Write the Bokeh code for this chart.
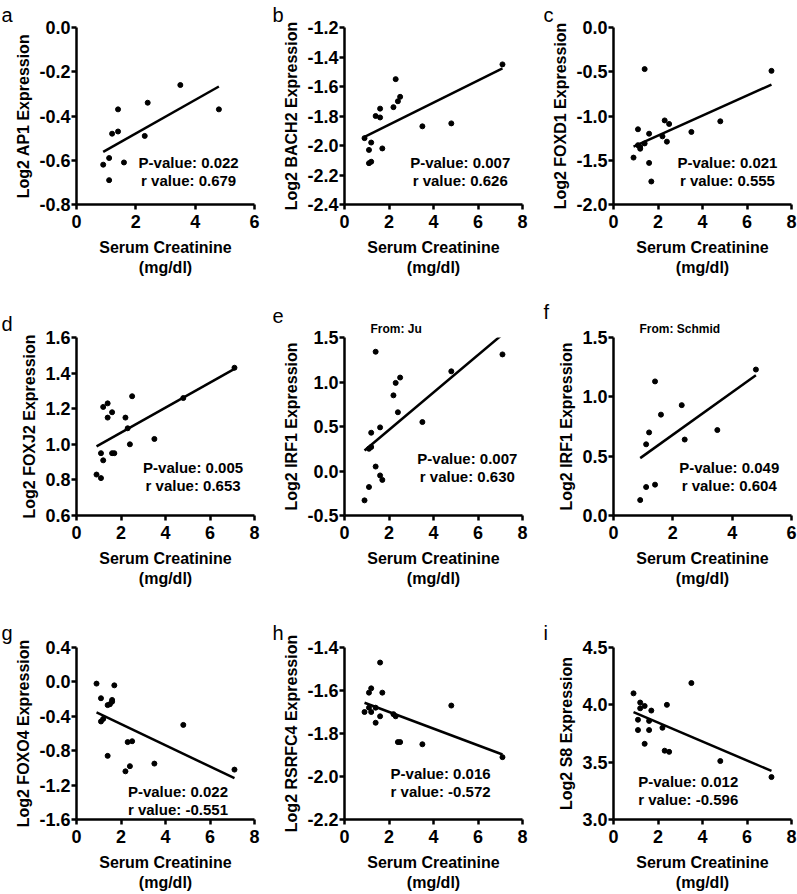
import numpy as np
from bokeh.plotting import figure
from bokeh.models import Range1d, FixedTicker, PrintfTickFormatter, Label, Title, ColumnDataSource
from bokeh.layouts import column, row
from bokeh.embed import file_html
from bokeh.resources import INLINE

# ---------------- data ----------------
creat17 = [0.9, 1.1, 1.1, 1.2, 1.2, 1.4, 1.4, 1.6, 1.6, 1.7, 2.2, 2.3, 2.4, 2.5, 3.5, 4.8, 7.1]
creat16 = [0.9, 1.1, 1.1, 1.2, 1.2, 1.4, 1.6, 1.6, 1.7, 2.2, 2.3, 2.4, 2.5, 3.5, 4.8, 7.1]
creat11 = [0.9, 1.1, 1.1, 1.2, 1.4, 1.4, 1.6, 2.3, 2.4, 3.5, 4.8]
creat_g = [0.9, 1.1, 1.1, 1.2, 1.4, 1.4, 1.5, 1.6, 1.6, 1.7, 2.2, 2.3, 2.4, 2.5, 3.5, 4.8, 7.1]

ap1 = [-0.62, -0.59, -0.69, -0.48, -0.47, -0.37, -0.61, -0.49, -0.34, -0.26, -0.37]
bach2 = [-1.95, -2.03, -2.12, -1.98, -2.11, -1.80, -1.81, -1.75, -2.02, -1.74, -1.55, -1.70, -1.67, -1.87, -1.85, -1.45]
foxd1 = [-1.47, -1.15, -1.33, -1.37, -1.35, -1.31, -0.47, -1.20, -1.53, -1.74, -1.23, -1.05, -1.29, -1.09, -1.18, -1.06, -0.49]
foxj2 = [0.83, 0.81, 0.95, 0.91, 1.21, 1.23, 1.15, 1.18, 0.95, 0.95, 1.15, 1.09, 1.00, 1.27, 1.03, 1.26, 1.43]
irf1_ju = [-0.33, -0.18, 0.25, 0.43, 0.27, 1.34, 0.05, 0.49, -0.05, -0.10, 0.85, 0.99, 0.66, 1.05, 0.55, 1.12, 1.31]
irf1_schmid = [0.13, 0.60, 0.24, 0.70, 1.13, 0.26, 0.85, 0.93, 0.64, 0.72, 1.23]
foxo4 = [-0.02, -0.19, -0.46, -0.43, -0.27, -0.86, -0.26, -0.23, -0.21, -0.04, -1.04, -0.70, -0.98, -0.69, -0.95, -0.50, -1.02]
rsrfc4 = [-1.70, -1.61, -1.68, -1.59, -1.70, -1.68, -1.75, -1.72, -1.47, -1.61, -1.71, -1.72, -1.84, -1.84, -1.85, -1.67, -1.91]
s8 = [4.10, 3.87, 3.78, 4.02, 3.97, 3.99, 3.66, 3.86, 3.78, 3.95, 3.80, 3.60, 4.00, 3.59, 4.19, 3.51, 3.37]

xticks6 = [0, 2, 4, 6]
xticks8 = [0, 2, 4, 6, 8]
yt_a = [-0.8, -0.6, -0.4, -0.2, 0.0]
yt_b = [-2.4, -2.2, -2.0, -1.8, -1.6, -1.4, -1.2]
yt_c = [-2.0, -1.5, -1.0, -0.5, 0.0]
yt_d = [0.6, 0.8, 1.0, 1.2, 1.4, 1.6]
yt_e = [-0.5, 0.0, 0.5, 1.0, 1.5]
yt_f = [0.0, 0.5, 1.0, 1.5]
yt_g = [-1.6, -1.2, -0.8, -0.4, 0.0, 0.4]
yt_h = [-2.2, -2.0, -1.8, -1.6, -1.4]
yt_i = [3.0, 3.5, 4.0, 4.5]

letters = ["a", "b", "c", "d", "e", "f", "g", "h", "i"]
ylabels = ["Log2 AP1 Expression", "Log2 BACH2 Expression", "Log2 FOXD1 Expression",
           "Log2 FOXJ2 Expression", "Log2 IRF1 Expression", "Log2 IRF1 Expression",
           "Log2 FOXO4 Expression", "Log2 RSRFC4 Expression", "Log2 S8 Expression"]
pvalues = ["0.022", "0.007", "0.021", "0.005", "0.007", "0.049", "0.022", "0.016", "0.012"]
rvalues = ["0.679", "0.626", "0.555", "0.653", "0.630", "0.604", "-0.551", "-0.572", "-0.596"]
sources = [None, None, None, None, "From: Ju", "From: Schmid", None, None, None]
xs_all = [creat11, creat16, creat17, creat17, creat17, creat11, creat_g, creat17, creat17]
ys_all = [ap1, bach2, foxd1, foxj2, irf1_ju, irf1_schmid, foxo4, rsrfc4, s8]
xt_all = [xticks6, xticks8, xticks8, xticks8, xticks8, xticks6, xticks8, xticks8, xticks8]
yt_all = [yt_a, yt_b, yt_c, yt_d, yt_e, yt_f, yt_g, yt_h, yt_i]

# ---------------- layout / style ----------------
FONT = "Liberation Sans"
FRAME_H = 178
FRAME_W = 178
COLW = [265, 265, 267]
BL = [76, 79, 83]
ROWH = [290, 310, 293]
BT = [26, 47, 47]
# annotation placement (fractions of frame: from left, from top)
text_pos = [(0.63, 0.76), (0.65, 0.76), (0.64, 0.76),
            (0.655, 0.73), (0.69, 0.68), (0.65, 0.73),
            (0.57, 0.84), (0.54, 0.73), (0.42, 0.78)]
letter_off = [-75, -72, -70]
letter_standoff = [3, 6, 7]


def make(i):
    col, rw = i % 3, i // 3
    xt, yt = xt_all[i], yt_all[i]
    x0, x1, y0, y1 = xt[0], xt[-1], yt[0], yt[-1]
    p = figure(width=COLW[col], height=ROWH[rw],
               x_range=Range1d(x0, x1), y_range=Range1d(y0, y1),
               output_backend="svg", toolbar_location=None,
               min_border_left=BL[col], min_border_right=COLW[col] - BL[col] - FRAME_W,
               min_border_top=BT[rw], min_border_bottom=ROWH[rw] - BT[rw] - FRAME_H)
    p.outline_line_color = None
    p.xgrid.visible = False
    p.ygrid.visible = False
    p.background_fill_color = "white"
    p.border_fill_color = "white"
    for ax in (p.xaxis[0], p.yaxis[0]):
        ax.axis_line_width = 2.5
        ax.axis_line_color = "black"
        ax.major_tick_line_width = 2.5
        ax.major_tick_line_color = "black"
        ax.major_tick_out = 5
        ax.major_tick_in = 0
        ax.minor_tick_line_color = None
        ax.major_label_text_font = FONT
        ax.major_label_text_font_style = "bold"
        ax.major_label_text_font_size = "18px"
        ax.major_label_text_color = "black"
        ax.axis_label_text_font = FONT
        ax.axis_label_text_font_style = "bold"
        ax.axis_label_text_font_size = "16px"
        ax.axis_label_text_color = "black"
    p.xaxis.ticker = FixedTicker(ticks=xt)
    p.yaxis.ticker = FixedTicker(ticks=yt)
    p.xaxis.formatter = PrintfTickFormatter(format="%d")
    p.yaxis.formatter = PrintfTickFormatter(format="%.1f")
    p.xaxis.major_label_standoff = 5
    p.yaxis.major_label_standoff = 1
    p.xaxis.axis_label = "Serum Creatinine\n(mg/dl)"
    p.xaxis.axis_label_standoff = 8
    p.yaxis.axis_label = ylabels[i]
    p.yaxis.axis_label_standoff = 4

    x = np.array(xs_all[i], dtype=float)
    y = np.array(ys_all[i], dtype=float)
    src = ColumnDataSource(dict(x=x, y=y))
    p.scatter("x", "y", source=src, size=5, color="black")
    slope, icpt = np.polyfit(x, y, 1)
    lx = np.array([x.min(), x.max()])
    p.line(lx, slope * lx + icpt, line_width=2.5, color="black")

    fx, fy = text_pos[i]
    tx = x0 + fx * (x1 - x0)
    ty = y1 - fy * (y1 - y0)
    for k, t in enumerate(["P-value: " + pvalues[i], "r value: " + rvalues[i]]):
        p.add_layout(Label(x=tx, y=ty, y_offset=-18 * k, text=t, text_align="center",
                           text_baseline="middle", text_font=FONT, text_font_style="bold",
                           text_font_size="15px", text_color="black"))
    if sources[i]:
        p.add_layout(Title(text=sources[i], align="left", offset=26, standoff=3,
                           text_font=FONT, text_font_style="bold", text_font_size="12px",
                           text_color="black"), "above")
        p.add_layout(Title(text=letters[i], align="left", offset=letter_off[col], standoff=-9,
                           text_font=FONT, text_font_style="normal", text_font_size="20px",
                           text_color="black"), "above")
    else:
        p.add_layout(Title(text=letters[i], align="left", offset=letter_off[col],
                           standoff=letter_standoff[rw],
                           text_font=FONT, text_font_style="normal", text_font_size="20px",
                           text_color="black"), "above")
    return p


figs = [make(i) for i in range(9)]
layout = column(row(*figs[0:3]), row(*figs[3:6]), row(*figs[6:9]))
open("out.html", "w").write(file_html(layout, INLINE))
